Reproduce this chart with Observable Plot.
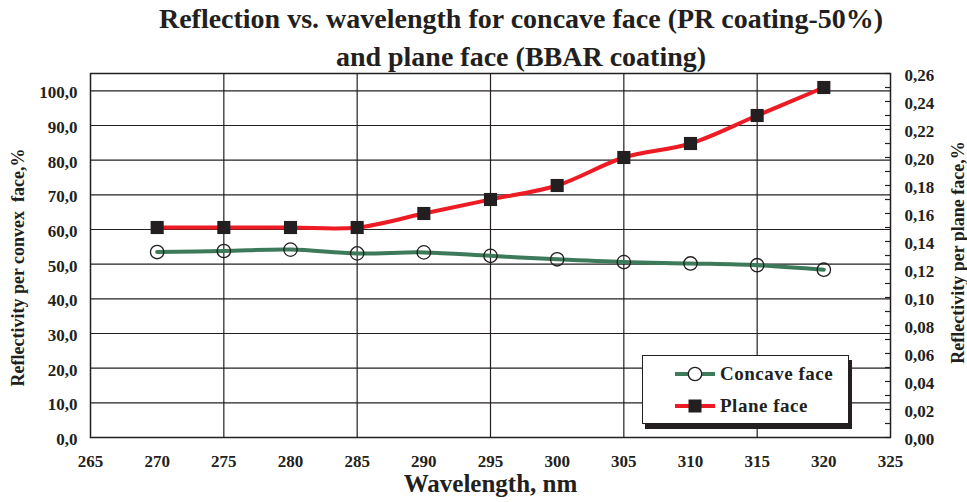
<!DOCTYPE html>
<html><head><meta charset="utf-8">
<script src="https://cdn.jsdelivr.net/npm/d3@7"></script>
<script src="https://cdn.jsdelivr.net/npm/@observablehq/plot@0.6"></script>
<style>
body{margin:0;background:#fff;}
#wrap{position:relative;width:967px;height:502px;font-family:"Liberation Serif",serif;font-weight:bold;color:#231f20;}
#title{height:62px;text-align:center;font-size:28px;line-height:38px;padding-left:75px;padding-top:0px;box-sizing:border-box;}
#chart svg, #chart svg text{font-family:"Liberation Serif",serif !important;font-weight:bold;}
#legend{position:absolute;left:642px;top:355px;width:205px;height:67px;border:1px solid #231f20;background:#fff;box-shadow:3px 5px 0 #231f20;font-size:19px;}
.lrow{position:absolute;left:32px;height:20px;display:flex;align-items:center;}
.lrow span{margin-left:5px;letter-spacing:0.5px;}
</style></head>
<body>
<div id="wrap">
<div id="title">Reflection vs. wavelength for concave face (PR coating-50%)<br>and plane face (BBAR coating)</div>
<div id="chart"></div>
<div id="legend">
  <div class="lrow" style="top:8px"><svg width="40" height="20"><line x1="0" y1="10" x2="40" y2="10" stroke="#3d7a5a" stroke-width="4"/><circle cx="20" cy="10" r="6.7" fill="#fff" stroke="#231f20" stroke-width="1.3"/></svg><span>Concave face</span></div>
  <div class="lrow" style="top:40px"><svg width="40" height="20"><line x1="0" y1="10" x2="40" y2="10" stroke="#ed1c24" stroke-width="4"/><rect x="13.5" y="3.5" width="13" height="13" fill="#231f20"/></svg><span>Plane face</span></div>
</div>
</div>
<script>
const wavelengths = [270, 275, 280, 285, 290, 295, 300, 305, 310, 315, 320];
const concaveFace = [53.5, 53.8, 54.2, 53.1, 53.4, 52.4, 51.4, 50.6, 50.2, 49.7, 48.4];
const planeFace = [0.15, 0.15, 0.15, 0.15, 0.16, 0.17, 0.18, 0.20, 0.21, 0.23, 0.25];
const xTicks = [265, 270, 275, 280, 285, 290, 295, 300, 305, 310, 315, 320, 325];
const xGrid = [275, 285, 295, 305, 315];
const leftTicks = [0, 10, 20, 30, 40, 50, 60, 70, 80, 90, 100];
const rightTicks = [0, 0.02, 0.04, 0.06, 0.08, 0.10, 0.12, 0.14, 0.16, 0.18, 0.20, 0.22, 0.24, 0.26];
const rightMinor = d3.range(0, 27).map(i => i / 100);

const leftMax = 105, rightMax = 0.26;
const k = leftMax / rightMax;
const comma = s => s.replace(".", ",");

const concaveData = wavelengths.map((w, i) => ({w, v: concaveFace[i]}));
const planeData = wavelengths.map((w, i) => ({w, v: planeFace[i] * k}));

const ink = "#231f20";
const serif = "Liberation Serif";
const chart = Plot.plot({
  width: 967,
  height: 440,
  marginTop: 11,
  marginBottom: 65,
  marginLeft: 90,
  marginRight: 77,
  style: {fontFamily: serif, fontWeight: "bold", fontSize: "17px", color: ink, background: "#fff"},
  x: {domain: [265, 325]},
  y: {domain: [0, leftMax]},
  marks: [
    Plot.gridY(leftTicks, {stroke: ink, strokeOpacity: 1, strokeWidth: 1.2}),
    Plot.gridX(xGrid, {stroke: ink, strokeOpacity: 1, strokeWidth: 1.2}),
    Plot.tickY(rightMinor, {y: d => d * k, insetLeft: 795, stroke: ink, strokeWidth: 1.2}),
    Plot.axisX(xTicks, {tickSize: 0, tickPadding: 17, tickFormat: d => String(d), label: null, fontSize: 17, fontFamily: serif}),
    Plot.axisY(leftTicks, {anchor: "left", tickSize: 0, tickPadding: 13, dy: 2, tickFormat: d => comma(d.toFixed(1)), label: null, fontSize: 17, fontFamily: serif}),
    Plot.axisY(rightTicks.map(t => t * k), {anchor: "right", tickSize: 0, tickPadding: 14, dy: 2, tickFormat: d => comma((d / k).toFixed(2)), label: null, fontSize: 17, fontFamily: serif}),
    Plot.frame({stroke: ink, strokeWidth: 1.5}),
    Plot.line(concaveData, {x: "w", y: "v", stroke: "#3d7a5a", strokeWidth: 4, curve: "catmull-rom"}),
    Plot.line(planeData, {x: "w", y: "v", stroke: "#ed1c24", strokeWidth: 4, curve: "catmull-rom"}),
    Plot.dot(concaveData, {x: "w", y: "v", r: 6.7, stroke: ink, strokeWidth: 1.3, fill: "none"}),
    Plot.dot(planeData, {x: "w", y: "v", r: 7.4, symbol: "square", fill: ink, stroke: "none"}),
    Plot.text(["Reflectivity per convex  face,%"], {frameAnchor: "left", textAnchor: "middle", dx: -72, dy: 12, rotate: -90, fontSize: 18, fill: ink, fontFamily: serif}),
    Plot.text(["Reflectivity per plane face,%"], {frameAnchor: "right", textAnchor: "middle", dx: 68, dy: -3, rotate: -90, fontSize: 18, fill: ink, fontFamily: serif}),
    Plot.text(["Wavelength, nm"], {frameAnchor: "bottom", dy: 54, fontSize: 25, fill: ink, fontFamily: serif})
  ]
});
document.getElementById("chart").appendChild(chart);
</script>
</body></html>
